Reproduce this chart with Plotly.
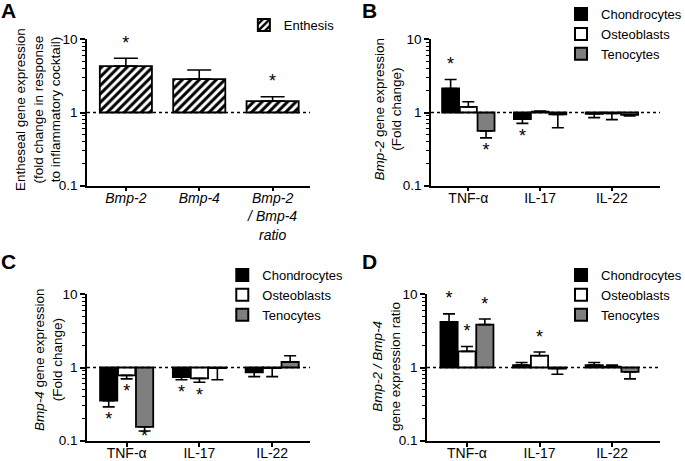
import plotly.graph_objects as go

# ---------------- data ----------------
a_categories = ["<i>Bmp-2</i>", "<i>Bmp-4</i>", "<i>Bmp-2<br>/ Bmp-4<br>ratio</i>"]
a_values = [4.3, 2.86, 1.43]
a_err = [5.5, 3.8, 1.64]
a_sig = [True, False, True]

cytokines = ["TNF-α", "IL-17", "IL-22"]
cell_types = ["Chondrocytes", "Osteoblasts", "Tenocytes"]

# Panel B: Bmp-2 fold change
b_chondro = [2.13, 0.81, 0.96]
b_osteo = [1.19, 1.03, 0.97]
b_teno = [0.56, 0.94, 0.93]
b_chondro_err = [2.83, 0.71, 0.85]
b_osteo_err = [1.40, 1.05, 0.80]
b_teno_err = [0.45, 0.62, 0.90]
b_chondro_sig = [True, True, False]
b_osteo_sig = [False, False, False]
b_teno_sig = [True, False, False]

# Panel C: Bmp-4 fold change
c_chondro = [0.353, 0.74, 0.86]
c_osteo = [0.78, 0.71, 0.98]
c_teno = [0.155, 0.98, 1.19]
c_chondro_err = [0.29, 0.68, 0.75]
c_osteo_err = [0.70, 0.63, 0.75]
c_teno_err = [0.136, 0.68, 1.45]
c_chondro_sig = [True, True, False]
c_osteo_sig = [True, True, False]
c_teno_sig = [True, False, False]

# Panel D: Bmp-2 / Bmp-4 ratio
d_chondro = [4.19, 1.08, 1.08]
d_osteo = [1.66, 1.45, 1.03]
d_teno = [3.85, 0.97, 0.87]
d_chondro_err = [5.4, 1.17, 1.17]
d_osteo_err = [1.94, 1.63, 1.08]
d_teno_err = [4.6, 0.81, 0.70]
d_chondro_sig = [True, False, False]
d_osteo_sig = [True, True, False]
d_teno_sig = [True, False, False]

y_ticks = [0.1, 1, 10]
y_ticktext = ["0.1", "1", "10"]

y_titles = [
    "Entheseal gene expression<br>(fold change in response<br>to inflammatory cocktail)",
    "<i>Bmp-2</i> gene expression<br>(Fold change)",
    "<i>Bmp-4</i> gene expression<br>(Fold change)",
    "<i>Bmp-2 / Bmp-4</i><br>gene expression ratio",
]
panel_letters = ["A", "B", "C", "D"]

# ---------------- style ----------------
W, H = 685, 461
FONT = "Liberation Sans, Arial, sans-serif"
fills = {"Chondrocytes": "#000000", "Osteoblasts": "#ffffff", "Tenocytes": "#7f7f7f"}
STAR_K = 1.55

fig = go.Figure()


def err_arrays(vals, errs):
    plus, minus = [], []
    for v, e in zip(vals, errs):
        if v >= 1:
            plus.append(max(e - v, 0)); minus.append(0)
        else:
            plus.append(0); minus.append(max(v - e, 0))
    return plus, minus


def star_positions(vals, errs, sigs):
    out = []
    for v, e, s in zip(vals, errs, sigs):
        if not s:
            out.append(None)
        elif v >= 1:
            out.append(e * STAR_K)
        else:
            out.append(max(e / STAR_K, 0.112))
    return out


def add_bar(cats, vals, errs, name, fill, xa, ya, legend, capw, pattern=None):
    plus, minus = err_arrays(vals, errs)
    marker = dict(color=fill, line=dict(color="black", width=1.8))
    if pattern:
        marker["pattern"] = pattern
    fig.add_trace(go.Bar(
        x=cats, y=[v - 1 for v in vals], base=[1] * len(vals), name=name,
        marker=marker, xaxis=xa, yaxis=ya, legend=legend, showlegend=True,
        offsetgroup=name,
        error_y=dict(type="data", symmetric=False, array=plus, arrayminus=minus,
                     color="black", thickness=1.6, width=capw),
    ))


def add_stars(cats, vals, errs, sigs, xa, ya, group):
    fig.add_trace(go.Scatter(
        x=cats, y=star_positions(vals, errs, sigs), mode="text", text=["*"] * len(cats),
        textfont=dict(family=FONT, size=18, color="black"), textposition="middle center",
        xaxis=xa, yaxis=ya, showlegend=False, hoverinfo="skip", cliponaxis=False,
        offsetgroup=group,
    ))


# Panel A
add_bar(a_categories, a_values, a_err, "Enthesis", "white", "x", "y", "legend", 12,
        pattern=dict(shape="/", fgcolor="black", bgcolor="white", fgopacity=1,
                     size=6, solidity=0.5))
add_stars(a_categories, a_values, a_err, a_sig, "x", "y", "Enthesis")

panels = [
    ("x2", "y2", "legend2",
     [b_chondro, b_osteo, b_teno], [b_chondro_err, b_osteo_err, b_teno_err],
     [b_chondro_sig, b_osteo_sig, b_teno_sig]),
    ("x3", "y3", "legend3",
     [c_chondro, c_osteo, c_teno], [c_chondro_err, c_osteo_err, c_teno_err],
     [c_chondro_sig, c_osteo_sig, c_teno_sig]),
    ("x4", "y4", "legend4",
     [d_chondro, d_osteo, d_teno], [d_chondro_err, d_osteo_err, d_teno_err],
     [d_chondro_sig, d_osteo_sig, d_teno_sig]),
]
for xa, ya, lg, vals_list, errs_list, sig_list in panels:
    for name, vals, errs in zip(cell_types, vals_list, errs_list):
        add_bar(cytokines, vals, errs, name, fills[name], xa, ya, lg, 6)
    for name, vals, errs, sigs in zip(cell_types, vals_list, errs_list, sig_list):
        add_stars(cytokines, vals, errs, sigs, xa, ya, name)

# ---------------- axes ----------------
minor_vals = [0.2, 0.3, 0.4, 0.5, 0.6, 0.7, 0.8, 0.9, 2, 3, 4, 5, 6, 7, 8, 9]
yaxis_common = dict(
    type="log", range=[-1, 1], tickvals=y_ticks, ticktext=y_ticktext,
    ticks="outside", ticklen=5, tickwidth=1.5, tickcolor="black",
    showline=True, linecolor="black", linewidth=1.6, showgrid=False, zeroline=False,
    minor=dict(tickvals=minor_vals, ticks="outside", ticklen=3, tickwidth=1.2,
               tickcolor="black", showgrid=False),
    tickfont=dict(family=FONT, size=13.5, color="black"),
)
xaxis_common = dict(
    type="category", ticks="outside", ticklen=4, tickwidth=1.5, tickcolor="black",
    showline=True, linecolor="black", linewidth=1.6, showgrid=False, zeroline=False,
    tickfont=dict(family=FONT, size=14, color="black"), ticklabelstandoff=-5,
)

fig.update_layout(
    xaxis=dict(xaxis_common, domain=[0.127, 0.4526], range=[-0.53, 2.51], anchor="y"),
    yaxis=dict(yaxis_common, domain=[0.5972, 0.9147], anchor="x"),
    xaxis2=dict(xaxis_common, domain=[0.6292, 0.9635], range=[-0.52, 2.67], anchor="y2"),
    yaxis2=dict(yaxis_common, domain=[0.5972, 0.9147], anchor="x2"),
    xaxis3=dict(xaxis_common, domain=[0.127, 0.4526], range=[-0.545, 2.52], anchor="y3"),
    yaxis3=dict(yaxis_common, domain=[0.0440, 0.3616], anchor="x3"),
    xaxis4=dict(xaxis_common, domain=[0.6234, 0.9635], range=[-0.55, 2.66], anchor="y4"),
    yaxis4=dict(yaxis_common, domain=[0.0440, 0.3616], anchor="x4"),
)

# y-axis titles as rotated annotations (pixel centres from the reference)
for text, cx, cy in zip(y_titles, [38, 387.5, 48, 386], [110, 109, 360, 367]):
    fig.add_annotation(text=text, x=cx / W, y=1 - cy / H, xref="paper", yref="paper",
                       xanchor="center", yanchor="middle", textangle=-90, showarrow=False,
                       align="center", font=dict(family=FONT, size=13.5, color="black"))

# dotted reference line at 1
for xa, ya in [("x", "y"), ("x2", "y2"), ("x3", "y3"), ("x4", "y4")]:
    fig.add_shape(type="line", xref=f"{xa} domain", yref=ya, x0=0, x1=1, y0=1, y1=1,
                  line=dict(color="black", width=1.6, dash="dot"), layer="above")

legend_common = dict(font=dict(family=FONT, size=13, color="black"), bgcolor="rgba(0,0,0,0)",
                     xanchor="left", yanchor="top", tracegroupgap=0, itemsizing="constant",
                     traceorder="normal")
fig.update_layout(
    legend=dict(legend_common, x=0.356, y=0.978),
    legend2=dict(legend_common, x=0.819, y=1.002),
    legend3=dict(legend_common, x=0.3245, y=0.436),
    legend4=dict(legend_common, x=0.819, y=0.436),
)

# panel letters
for letter, x, y in zip(panel_letters, [-0.002, 0.526, -0.002, 0.526],
                        [1.0065, 1.0065, 0.463, 0.463]):
    fig.add_annotation(text=f"<b>{letter}</b>", x=x, y=y, xref="paper", yref="paper",
                       xanchor="left", yanchor="top", showarrow=False,
                       font=dict(family=FONT, size=21, color="black"))

fig.update_layout(
    width=W, height=H, margin=dict(l=0, r=0, t=0, b=0, pad=0, autoexpand=False),
    paper_bgcolor="white", plot_bgcolor="white",
    barmode="group", bargap=0.26, bargroupgap=0.04,
    scattermode="group", scattergap=0.26,
    font=dict(family=FONT, color="black"),
)

fig.write_html("out.html", config={"displayModeBar": False},
               post_script="document.body.style.margin='0';document.body.style.overflow='hidden';")
